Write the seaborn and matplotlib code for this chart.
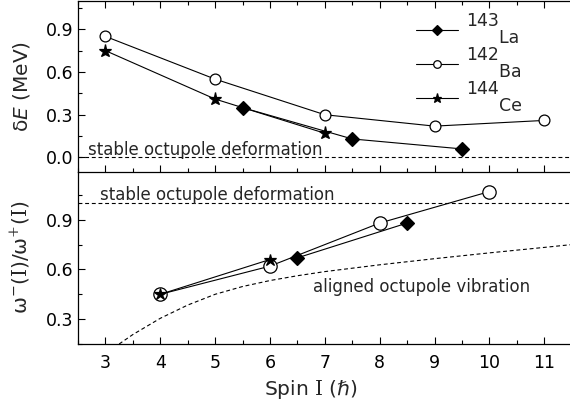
import matplotlib
matplotlib.use("Agg")
import matplotlib.pyplot as plt
import seaborn as sns
from matplotlib.ticker import MultipleLocator

# ---- data ----
spin_ba_dE = [3, 5, 7, 9, 11]
dE_ba = [0.85, 0.55, 0.30, 0.22, 0.26]
spin_ce_dE = [3, 5, 7]
dE_ce = [0.75, 0.41, 0.17]
spin_la_dE = [5.5, 7.5, 9.5]
dE_la = [0.35, 0.13, 0.06]

spin_ba_w = [4, 6, 8, 10]
w_ba = [0.45, 0.62, 0.88, 1.07]
spin_ce_w = [4, 6]
w_ce = [0.45, 0.66]
spin_la_w = [6.5, 8.5]
w_la = [0.67, 0.88]

vib_spin = [3.25, 3.5, 4, 4.5, 5, 5.5, 6, 6.5, 7, 8, 9, 10, 11, 11.5]
vib_ratio = [0.15, 0.207, 0.305, 0.385, 0.45, 0.497, 0.533, 0.562, 0.587,
             0.628, 0.665, 0.70, 0.733, 0.75]

xticks = [3, 4, 5, 6, 7, 8, 9, 10, 11]
labels = ["143\n      La", "142\n      Ba", "144\n      Ce"]

sns.set_theme(style="ticks")
plt.rcParams["font.family"] = ["DejaVu Sans"]
plt.rcParams["mathtext.fontset"] = "custom"
plt.rcParams["mathtext.rm"] = "DejaVu Serif"
plt.rcParams["mathtext.it"] = "DejaVu Sans:italic"
plt.rcParams["mathtext.bf"] = "DejaVu Sans:bold"
plt.rcParams["mathtext.sf"] = "DejaVu Sans"

W, H = 570, 408
fig = plt.figure(figsize=(W / 100, H / 100), dpi=100)
L = 78 / W
AW = 492 / W
ax2 = fig.add_axes([L, 64 / H, AW, (344 - 171.7) / H])
ax1 = fig.add_axes([L, 1 - 171.7 / H, AW, (171.7 - 0.8) / H])

lw = 0.8
common = dict(color="black", linewidth=lw, markeredgecolor="black",
              markeredgewidth=0.9, sort=False, estimator=None)

# top panel
sns.lineplot(x=spin_ba_dE, y=dE_ba, ax=ax1, marker="o", markersize=7.8,
             markerfacecolor="white", **common)
sns.lineplot(x=spin_ce_dE, y=dE_ce, ax=ax1, marker="*", markersize=9.5,
             markerfacecolor="black", **common)
sns.lineplot(x=spin_la_dE, y=dE_la, ax=ax1, marker="D", markersize=7.5,
             markerfacecolor="black", **common)
ax1.axhline(0.0, color="black", lw=lw, ls=(0, (3.5, 2.5)), zorder=1)

# bottom panel
sns.lineplot(x=spin_ba_w, y=w_ba, ax=ax2, marker="o", markersize=9.6,
             markerfacecolor="white", **common)
sns.lineplot(x=spin_ce_w, y=w_ce, ax=ax2, marker="*", markersize=9,
             markerfacecolor="black", **common)
sns.lineplot(x=spin_la_w, y=w_la, ax=ax2, marker="D", markersize=7,
             markerfacecolor="black", **common)
sns.lineplot(x=vib_spin, y=vib_ratio, ax=ax2, color="black", linewidth=lw,
             linestyle=(0, (3.5, 2.5)), sort=False, estimator=None)
ax2.axhline(1.0, color="black", lw=lw, ls=(0, (3.5, 2.5)), zorder=1)

for ax in (ax1, ax2):
    if ax.get_legend() is not None:
        ax.get_legend().remove()
    ax.set_xlim(2.5, 11.47)
    ax.set_xticks(xticks)
    ax.xaxis.set_minor_locator(MultipleLocator(0.5))
    ax.yaxis.set_minor_locator(MultipleLocator(0.15))
    ax.tick_params(which="both", direction="in", width=0.8, colors="black",
                   labelsize=12.5)
    ax.tick_params(which="major", length=5)
    ax.tick_params(which="minor", length=3)
    ax.tick_params(axis="y", pad=3.5)
    ax.tick_params(axis="x", pad=7)
    ax.spines["right"].set_visible(False)
    for s in ax.spines.values():
        s.set_linewidth(0.9)
        s.set_color("black")
    ax.set_facecolor("none")

ax1.set_ylim(-0.1, 1.1)
ax1.set_yticks([0.0, 0.3, 0.6, 0.9])
ax1.tick_params(axis="x", which="both", top=True, bottom=True, labelbottom=False)
ax2.set_ylim(0.15, 1.19)
ax2.set_yticks([0.3, 0.6, 0.9])
ax2.spines["top"].set_visible(False)
ax2.tick_params(axis="x", which="both", top=False, bottom=True)

ax1.set_ylabel("δ$E$ (MeV)", fontsize=14.5)
ax1.yaxis.set_label_coords(-0.093, 0.5)
ax2.set_ylabel(r"ω$^{-}$($\mathrm{I}$)/ω$^{+}$($\mathrm{I}$)", fontsize=14.5)
ax2.yaxis.set_label_coords(-0.093, 0.5)
ax2.set_xlabel(r"Spin $\mathrm{I}$ (ℏ)", fontsize=14.5)
ax2.xaxis.set_label_coords(0.472, -0.197)

ax1.text(2.69, 0.02, "stable octupole deformation", fontsize=12,
         ha="left", va="baseline")
ax2.text(2.90, 1.02, "stable octupole deformation", fontsize=12,
         ha="left", va="baseline")
ax2.text(6.79, 0.465, "aligned octupole vibration", fontsize=12,
         ha="left", va="baseline")

lines = ax1.get_lines()
handles = [lines[2], lines[0], lines[1]]
leg = ax1.legend(handles, labels, loc="upper left",
                 bbox_to_anchor=(0.688, 0.935), bbox_transform=ax1.transAxes,
                 frameon=False, fontsize=12.5, handlelength=2.4,
                 handletextpad=0.45, labelspacing=-0.08, borderpad=0,
                 borderaxespad=0, markerscale=0.7)
for t in leg.get_texts():
    t.set_linespacing(0.95)

fig.savefig("out.png", dpi=100, facecolor="white")
